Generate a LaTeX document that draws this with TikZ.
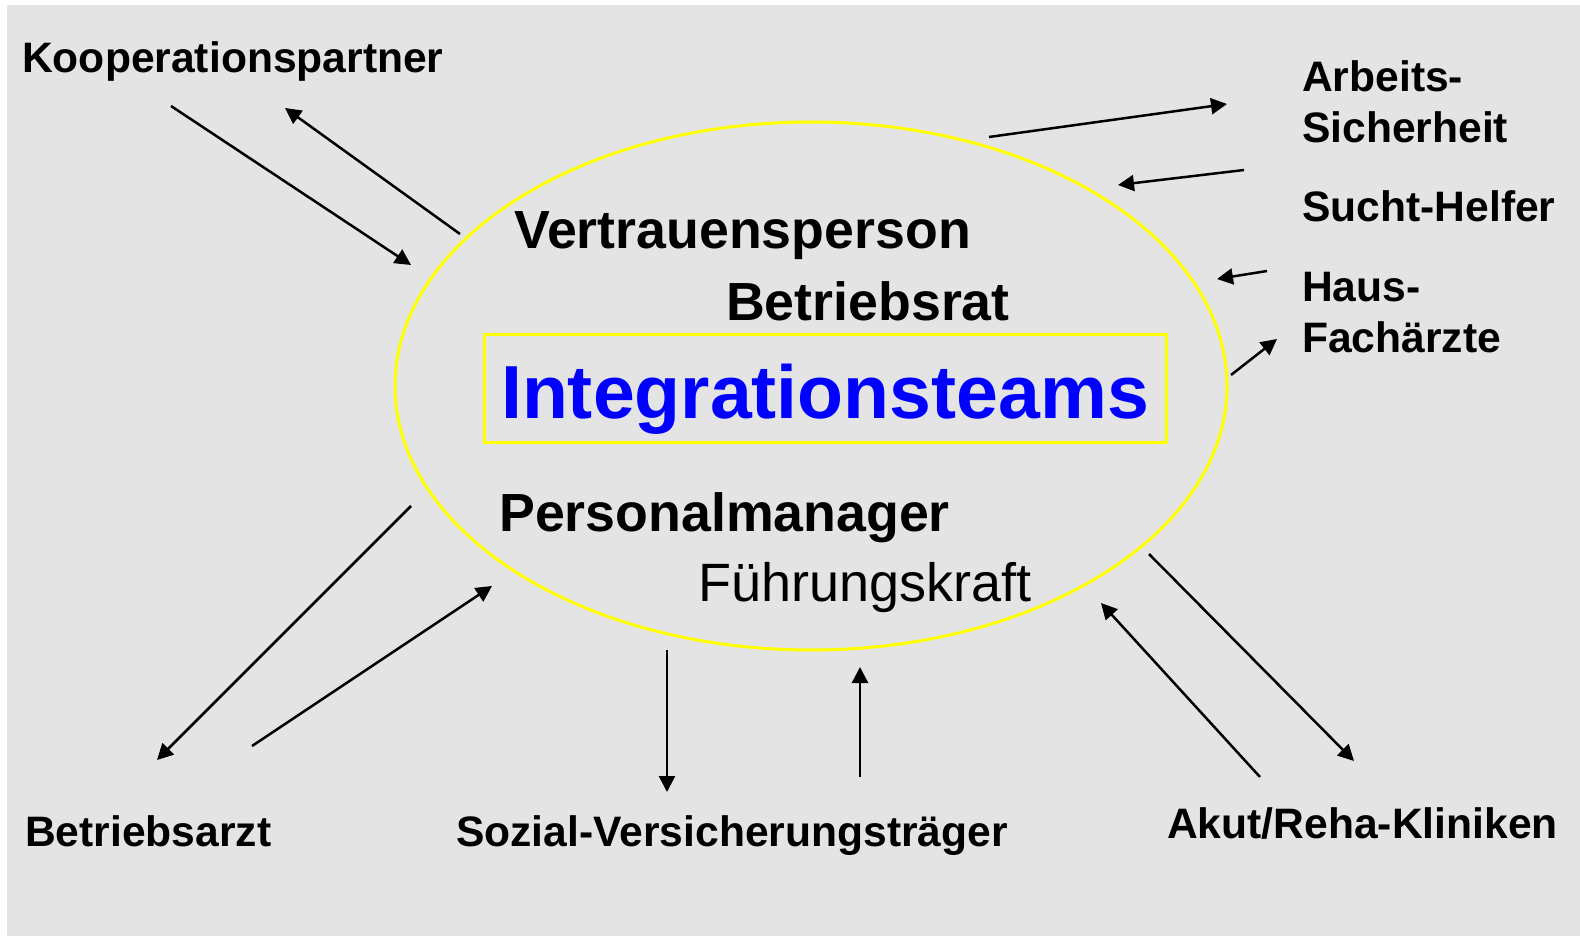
\documentclass[tikz,border=0pt]{standalone}
\usepackage{fontspec}
\setmainfont{Liberation Sans}
\usepackage{tikz}
\usepackage{xcolor}
\usetikzlibrary{shapes,arrows.meta}
\definecolor{slidegrey}{HTML}{E4E4E4}
\definecolor{teamblue}{HTML}{0000FF}
\definecolor{ringyellow}{HTML}{FFFF00}
\tikzstyle{partner} = [font=\fontsize{42.6}{51}\selectfont\bfseries,
anchor=base west, inner sep=0pt, align=left]
\tikzstyle{member} = [font=\fontsize{53.7}{60}\selectfont\bfseries,
anchor=base west, inner sep=0pt]
\tikzset{line/.style={draw, line width=2.5pt, -{Triangle[length=16pt,width=16pt]}}}

\begin{document}
\begin{tikzpicture}[x=1pt, y=-1pt]
        \fill [white] (0,0) rectangle (1580,936);
        \fill [slidegrey] (7,5) rectangle (1580,936);
        \useasboundingbox (0,0) rectangle (1580,936);

        \node [draw=ringyellow, line width=3pt, ellipse, minimum width=832pt,
               minimum height=528pt] (team) at (811,386) {};
        \node [draw=ringyellow, line width=3pt, minimum width=682pt,
               minimum height=108pt, inner sep=0pt] (box) at (825,388) {};
        \node [anchor=base, inner sep=0pt, text=teamblue,
               font=\fontsize{75.2}{80}\selectfont\bfseries] (integ) at (825,418) {Integrationsteams};

        \node [member] (vertr) at (514,249) {Vertrauensperson};
        \node [member] (brat) at (726,320) {Betriebsrat};
        \node [member] (pman) at (499,531) {Personalmanager};
        \node [member, font=\fontsize{54}{60}\selectfont] (fkraft) at (698,601) {Führungskraft};

        \node [partner] (koop) at (22,73) {Kooperationspartner};
        \node [partner] (asi) at (1302,143) {Arbeits-\\Sicherheit};
        \node [partner] (sucht) at (1302,222) {Sucht-Helfer};
        \node [partner] (haus) at (1302,352) {Haus-\\Fachärzte};
        \node [partner] (arzt) at (25,846) {Betriebsarzt};
        \node [partner] (svt) at (456,846) {Sozial-Versicherungsträger};
        \node [partner] (klinik) at (1167,838) {Akut/Reha-Kliniken};

        % free ends of the connectors
        \coordinate (koop in) at (171,106);   \coordinate (team koop in) at (411,265);
        \coordinate (team koop) at (460,234); \coordinate (koop out) at (285,108);
        \coordinate (team asi) at (989,137);  \coordinate (asi out) at (1227,104);
        \coordinate (sucht in) at (1244,170); \coordinate (team sucht) at (1118,185);
        \coordinate (haus in) at (1267,271);  \coordinate (team haus in) at (1217,279);
        \coordinate (team haus) at (1231,375);\coordinate (haus out) at (1277,339);
        \coordinate (team klinik) at (1149,554); \coordinate (klinik out) at (1354,761);
        \coordinate (klinik in) at (1260,777);   \coordinate (team klinik in) at (1101,603);
        \coordinate (team svt) at (667,650);  \coordinate (svt out) at (667,792);
        \coordinate (svt in) at (860,777);    \coordinate (team svt in) at (860,667);
        \coordinate (team arzt) at (411,506); \coordinate (arzt out) at (157,760);
        \coordinate (arzt in) at (252,746);   \coordinate (team arzt in) at (492,586);

        \path [line] (koop in) -- (team koop in);
        \path [line] (team koop) -- (koop out);
        \path [line] (team asi) -- (asi out);
        \path [line] (sucht in) -- (team sucht);
        \path [line] (haus in) -- (team haus in);
        \path [line] (team haus) -- (haus out);
        \path [line] (team klinik) -- (klinik out);
        \path [line] (klinik in) -- (team klinik in);
        \path [line] (team svt) -- (svt out);
        \path [line] (svt in) -- (team svt in);
        \path [line] (team arzt) -- (arzt out);
        \path [line] (arzt in) -- (team arzt in);
      \end{tikzpicture}
\end{document}
